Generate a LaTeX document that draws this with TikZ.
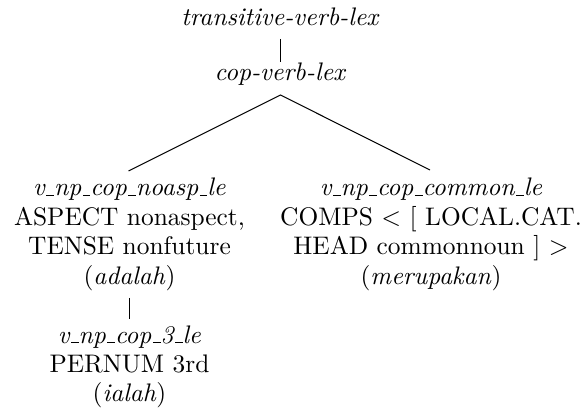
\documentclass[tikz,border=0pt]{standalone}
\usetikzlibrary{calc}
\newcommand{\usc}{\leavevmode\kern.06em\vbox{\hrule width.3em}}
\begin{document}
\begin{tikzpicture}[x=0.3937pt, y=-0.3937pt,
  lbl/.style={inner sep=0pt, outer sep=0pt, anchor=base, align=center,
    font=\fontsize{10}{11.6}\selectfont},
  edge/.style={draw=black, line width=0.4pt}]
\useasboundingbox (0,0) rectangle (585,412);
\node[lbl] (tv) at (280.5,26) {\textit{transitive-verb-lex}};
\node[lbl] (cv) at (280.5,81) {\textit{cop-verb-lex}};
\node[lbl] (na) at (129.5,284) {\textit{v\usc np\usc cop\usc noasp\usc le}\\ASPECT nonaspect,\\TENSE nonfuture\\(\textit{adalah})};
\node[lbl] (cm) at (431,284) {\textit{v\usc np\usc cop\usc common\usc le}\\COMPS $<$ [ LOCAL.CAT.\\HEAD commonnoun ] $>$\\(\textit{merupakan})};
\node[lbl] (c3) at (129.5,402) {\textit{v\usc np\usc cop\usc 3\usc le}\\PERNUM 3rd\\(\textit{ialah})};
\coordinate (tvb) at ($(tv.base)+(0,13)$);
\coordinate (cvt) at ($(cv.base)+(0,-19)$);
\coordinate (cvb) at ($(cv.base)+(0,14)$);
\coordinate (nat) at ($(na.base)+(-1,-113)$);
\coordinate (cmt) at ($(cm.base)+(-1,-114)$);
\coordinate (nab) at ($(na.base)+(0,14)$);
\coordinate (c3t) at ($(c3.base)+(0,-83)$);
\draw[edge] (tvb) -- (cvt);
\draw[edge] (nat) -- (cvb) -- (cmt);
\draw[edge] (nab) -- (c3t);
\end{tikzpicture}
\end{document}
